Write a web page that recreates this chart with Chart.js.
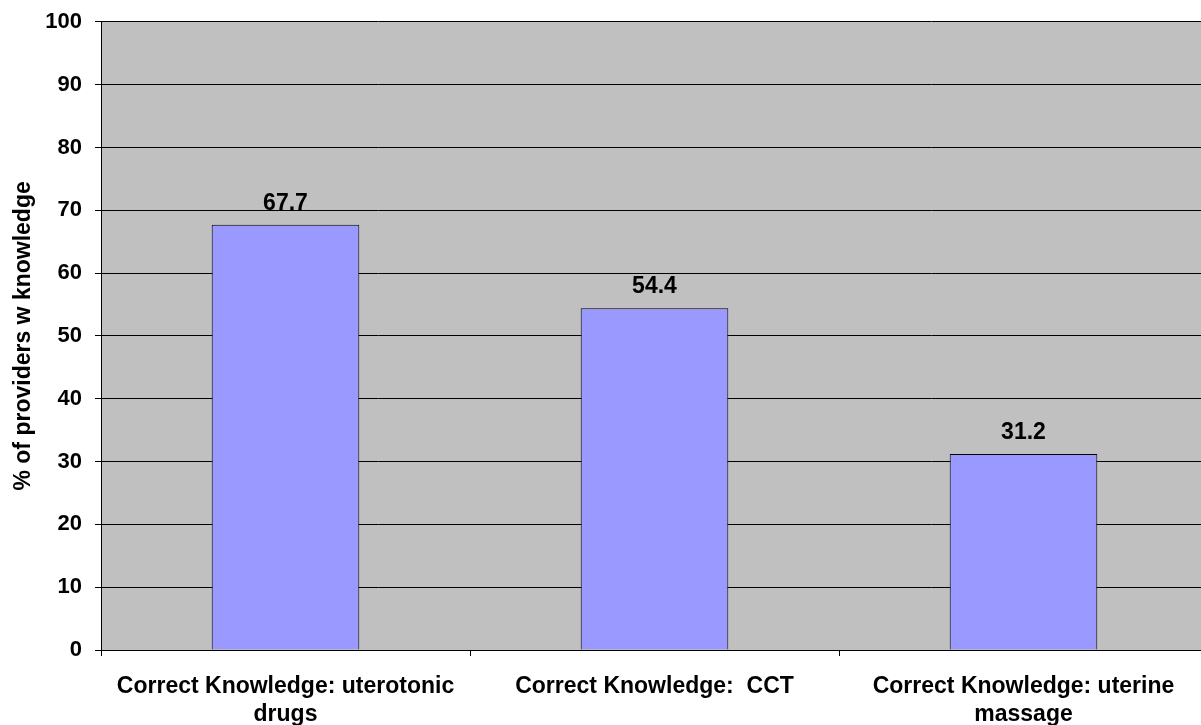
<!DOCTYPE html>
<html>
<head>
<meta charset="utf-8">
<script src="https://cdn.jsdelivr.net/npm/chart.js@4"></script>
<style>
  html, body { margin: 0; padding: 0; background: #fff; overflow: hidden; }
  #wrap { width: 1208px; height: 725px; position: relative; }
</style>
</head>
<body>
<div id="wrap"><canvas id="barChart"></canvas></div>
<script>
const categories = [
  ["Correct Knowledge: uterotonic", "drugs"],
  "Correct Knowledge:  CCT",
  ["Correct Knowledge: uterine", "massage"]
];
const percentValues = [67.7, 54.4, 31.2];
const yTicks = [0, 10, 20, 30, 40, 50, 60, 70, 80, 90, 100];
const yTitle = "% of providers w knowledge";

const FONT = "'Liberation Sans', Arial, sans-serif";

// plot area background
const plotBackground = {
  id: "plotBackground",
  beforeDraw(chart) {
    const { ctx, chartArea: a } = chart;
    ctx.save();
    ctx.fillStyle = "#C0C0C0";
    ctx.fillRect(a.left, a.top, a.right - a.left, a.bottom - a.top);
    ctx.restore();
  }
};

// value labels above the bars
const valueLabels = {
  id: "valueLabels",
  afterDatasetsDraw(chart) {
    const { ctx } = chart;
    const meta = chart.getDatasetMeta(0);
    ctx.save();
    ctx.font = "bold 23px " + FONT;
    ctx.fillStyle = "#000";
    ctx.textAlign = "center";
    ctx.textBaseline = "alphabetic";
    meta.data.forEach((bar, i) => {
      ctx.fillText(percentValues[i].toFixed(1), bar.x, bar.y - 15);
    });
    ctx.restore();
  }
};

new Chart(document.getElementById("barChart"), {
  type: "bar",
  data: {
    labels: categories,
    datasets: [{
      data: percentValues,
      backgroundColor: "#9999FF",
      borderColor: "#000",
      borderWidth: 1,
      barPercentage: 0.4,
      categoryPercentage: 1
    }]
  },
  options: {
    responsive: true,
    maintainAspectRatio: false,
    animation: false,
    layout: { padding: { top: 21, right: 0, left: 0, bottom: 0 } },
    plugins: {
      legend: { display: false },
      tooltip: { enabled: false }
    },
    scales: {
      x: {
        grid: {
          display: true,
          drawOnChartArea: false,
          drawTicks: true,
          tickLength: 6,
          color: "#000",
          offset: true
        },
        border: { color: "#000", width: 1 },
        ticks: {
          color: "#000",
          font: { family: FONT, size: 23, weight: "bold", lineHeight: 1.2 },
          padding: 17,
          maxRotation: 0,
          autoSkip: false
        },
        afterFit(scale) { scale.height = 75; }
      },
      y: {
        min: 0,
        max: 100,
        afterBuildTicks(scale) { scale.ticks = yTicks.map(v => ({ value: v })); },
        grid: {
          color: "#000",
          lineWidth: 1,
          drawTicks: true,
          tickLength: 6
        },
        border: { color: "#000", width: 1 },
        ticks: {
          color: "#000",
          font: { family: FONT, size: 22, weight: "bold", lineHeight: 0.8 },
          padding: 13
        },
        title: {
          display: true,
          text: yTitle,
          color: "#000",
          font: { family: FONT, size: 23, weight: "bold", lineHeight: 1.2 },
          padding: { top: 10, bottom: 0 }
        },
        afterFit(scale) { scale.width = 101; }
      }
    }
  },
  plugins: [plotBackground, valueLabels]
});
</script>
</body>
</html>
